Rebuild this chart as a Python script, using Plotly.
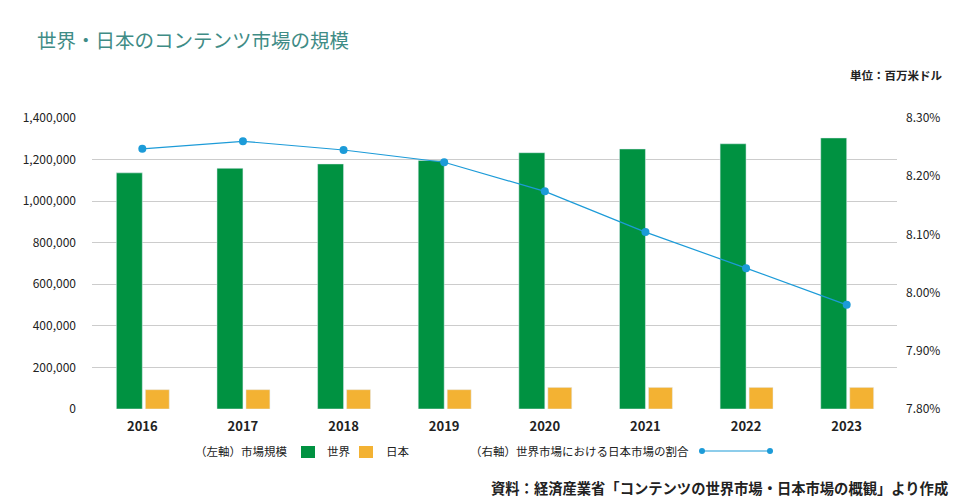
import plotly.graph_objects as go

years = ["2016", "2017", "2018", "2019", "2020", "2021", "2022", "2023"]
world = [1136000, 1158000, 1179000, 1196000, 1233000, 1251000, 1276000, 1304000]
japan = [93000, 93000, 93000, 93000, 104000, 104000, 104000, 104000]
share = [8.247, 8.260, 8.245, 8.224, 8.174, 8.104, 8.042, 7.979]

left_ticks = [0, 200000, 400000, 600000, 800000, 1000000, 1200000, 1400000]
right_ticks = [7.8, 7.9, 8.0, 8.1, 8.2, 8.3]
right_labels = [f"{v:.2f}%" for v in right_ticks]

GREEN = "#009241"
ORANGE = "#f3b233"
BLUE = "#1c9bd8"
TEAL = "#3f8c86"
FONT = "Noto Sans CJK JP"

W, H = 960, 502
L, R, T, B = 92, 63, 118, 93
PW, PH = W - L - R, H - T - B


def px(x):
    return (x - L) / PW


def py(y):
    return (H - B - y) / PH


fig = go.Figure()
fig.add_trace(go.Bar(x=years, y=world, name="世界", marker_color=GREEN,
                     width=0.258, offset=-0.258, yaxis="y"))
fig.add_trace(go.Bar(x=years, y=japan, name="日本", marker_color=ORANGE,
                     width=0.238, offset=0.03, yaxis="y"))
fig.add_trace(go.Scatter(x=years, y=share, name="世界市場における日本市場の割合",
                         mode="lines+markers", yaxis="y2",
                         line=dict(color=BLUE, width=1.2),
                         marker=dict(color=BLUE, size=8)))

fig.update_layout(
    width=W, height=H,
    margin=dict(l=L, r=R, t=T, b=B),
    paper_bgcolor="white", plot_bgcolor="white",
    showlegend=False,
    barmode="overlay",
    font=dict(family=FONT, color="#222222"),
    xaxis=dict(type="category", showgrid=False, showline=False, ticks="",
               tickfont=dict(family=FONT, size=13, color="#222222", weight="bold"),
               ticklabelstandoff=8),
    yaxis=dict(range=[0, 1400000], tickvals=left_ticks, tickformat=",d",
               showgrid=True, gridcolor="#cccccc", gridwidth=1,
               zeroline=False, showline=False, ticks="",
               tickfont=dict(family=FONT, size=12, color="#222222"),
               ticklabelstandoff=15),
    yaxis2=dict(range=[7.8, 8.3], tickvals=right_ticks, ticktext=right_labels,
                overlaying="y", side="right",
                showgrid=False, zeroline=False, showline=False, ticks="",
                tickfont=dict(family=FONT, size=12, color="#222222"),
                ticklabelstandoff=8),
)

ann = []
ann.append(dict(text="世界・日本のコンテンツ市場の規模", x=px(35), y=py(39),
                xanchor="left", yanchor="middle",
                font=dict(family=FONT, size=19.5, color=TEAL)))
ann.append(dict(text="単位：百万米ドル", x=px(944), y=py(75),
                xanchor="right", yanchor="middle",
                font=dict(family=FONT, size=11.5, color="#222222", weight="bold")))
ann.append(dict(text="資料：経済産業省「コンテンツの世界市場・日本市場の概観」より作成",
                x=px(950), y=py(487), xanchor="right", yanchor="middle",
                font=dict(family=FONT, size=14.3, color="#222222", weight="bold")))
# legend texts
leg_y = py(451)
for txt, x0 in [("（左軸）市場規模", 193), ("世界", 325), ("日本", 384),
                ("（右軸）世界市場における日本市場の割合", 468)]:
    ann.append(dict(text=txt, x=px(x0), y=leg_y, xanchor="left", yanchor="middle",
                    font=dict(family=FONT, size=11.5, color="#222222")))
for a in ann:
    a.update(xref="paper", yref="paper", showarrow=False)
fig.update_layout(annotations=ann)

shapes = [
    dict(type="rect", x0=px(301), x1=px(315), y0=py(458), y1=py(446),
         fillcolor=GREEN, line_width=0),
    dict(type="rect", x0=px(359), x1=px(373), y0=py(458), y1=py(446),
         fillcolor=ORANGE, line_width=0),
    dict(type="line", x0=px(702), x1=px(770), y0=leg_y, y1=leg_y,
         line=dict(color=BLUE, width=1.2)),
    dict(type="circle", x0=px(699), x1=px(705), y0=py(454), y1=py(448),
         fillcolor=BLUE, line_width=0),
    dict(type="circle", x0=px(767), x1=px(773), y0=py(454), y1=py(448),
         fillcolor=BLUE, line_width=0),
]
for s in shapes:
    s.update(xref="paper", yref="paper")
fig.update_layout(shapes=shapes)

fig.write_html("out.html", config={"displayModeBar": False})

# remove default page margin so the figure sits at the window's top-left
with open("out.html", "r", encoding="utf-8") as f:
    html = f.read()
html = html.replace("<head>", "<head><style>html,body{margin:0;padding:0;overflow:hidden;}</style>", 1)
with open("out.html", "w", encoding="utf-8") as f:
    f.write(html)
